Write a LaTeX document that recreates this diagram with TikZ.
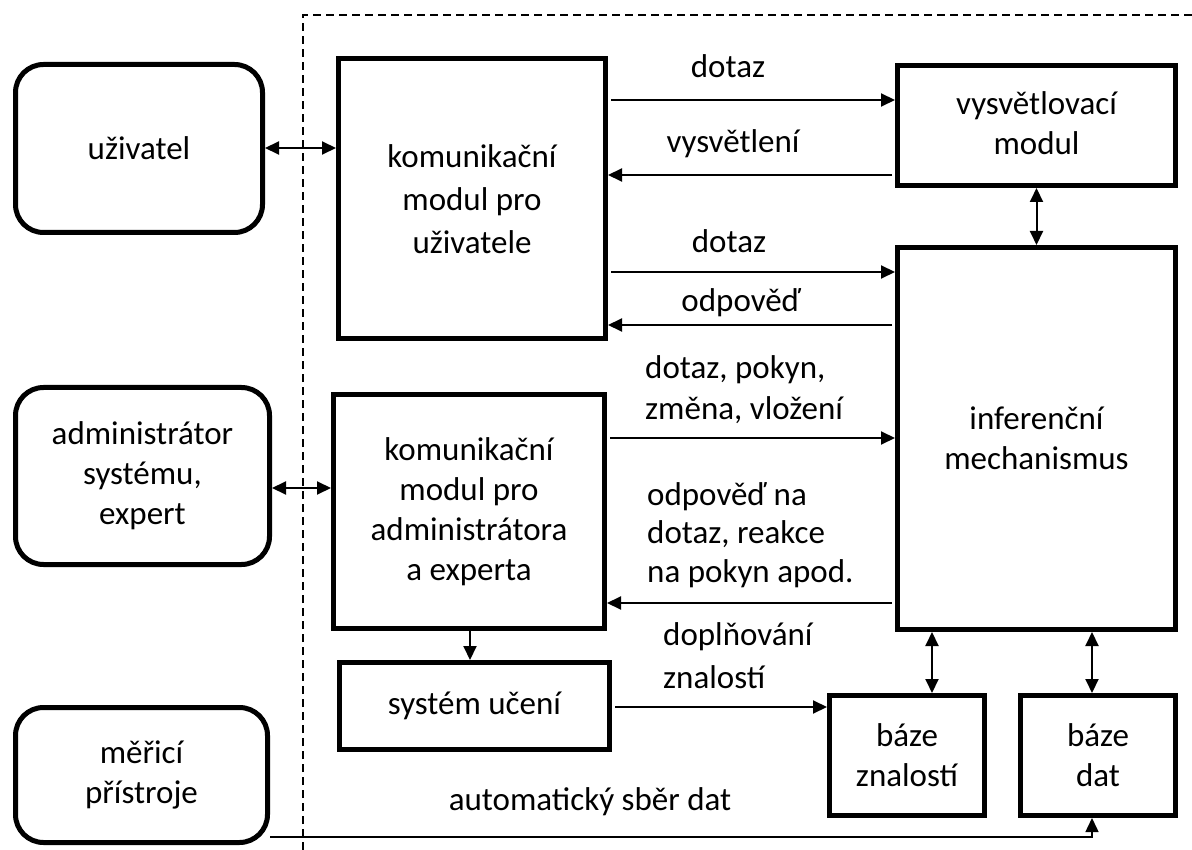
\documentclass[tikz,border=0pt]{standalone}
\usepackage{fontspec}
\setmainfont{Carlito}
\usetikzlibrary{arrows.meta}

\tikzset{
  txt/.style={font=\fontsize{33}{40}\selectfont},
  box/.style={txt, draw, line width=5pt, align=center, inner sep=0pt},
  rbox/.style={box, rounded corners=28pt},
  lbl/.style={txt, align=left, inner sep=0pt, anchor=base west},
  clbl/.style={txt, inner sep=0pt, anchor=base},
  tip/.tip={Triangle[length=14pt,width=13pt]},
  conn/.style={line width=2pt, -tip, shorten <=3pt},
  biconn/.style={line width=2pt, tip-tip},
  border/.style={line width=2pt, dash pattern=on 8pt off 5pt},
}

\begin{document}
\begin{tikzpicture}[x=1pt, y=-1pt]
\useasboundingbox (0,0) rectangle (1192,850);

% system boundary
\draw[border] (303,850) -- (303,15) -- (1192,15);

% outside actors
\node[rbox, minimum width=247pt, minimum height=168pt] (user) at (139,148.5) {uživatel};
\node[rbox, minimum width=254pt, minimum height=177pt] (admin) at (142.5,476) {administrátor\\systému,\\expert};
\node[rbox, minimum width=252pt, minimum height=135pt] (meas) at (141.5,775) {měřicí\\přístroje};

% modules of the system
\node[box, minimum width=267pt, minimum height=280pt, font=\fontsize{33}{43}\selectfont] (ku) at (472,199) {komunikační\\modul pro\\uživatele};
\node[box, minimum width=271pt, minimum height=234pt] (ka) at (469,511.5) {komunikační\\modul pro\\administrátora\\a experta};
\node[box, minimum width=270pt, minimum height=87pt] (learn) at (474.5,706) {systém učení};
\node[box, minimum width=278pt, minimum height=120pt, text depth=4pt] (expl) at (1036.5,125.5) {vysvětlovací\\modul};
\node[box, minimum width=278pt, minimum height=382pt] (inf) at (1036.5,438.5) {inferenční\\mechanismus};
\node[box, minimum width=155pt, minimum height=120pt] (kb) at (907,755.5) {báze\\znalostí};
\node[box, minimum width=155pt, minimum height=120pt] (db) at (1098,755.5) {báze\\dat};

% user side
\draw[biconn] (user.east |- 0,148) -- (ku.west |- 0,148);
\draw[conn] (ku.east |- 0,100) -- (expl.west |- 0,100);
\draw[conn] (expl.west |- 0,175) -- (ku.east |- 0,175);
\draw[biconn] (expl.south) -- (inf.north);
\draw[conn] (ku.east |- 0,272) -- (inf.west |- 0,272);
\draw[conn] (inf.west |- 0,325) -- (ku.east |- 0,325);

% administrator side
\draw[biconn] (admin.east |- 0,488) -- (ka.west |- 0,488);
\draw[conn] (ka.east |- 0,438) -- (inf.west |- 0,438);
\draw[conn] (inf.west |- 0,603) -- (ka.east |- 0,603);
\draw[conn, shorten <=0pt] (ka.south -| 470,0) -- (learn.north -| 470,0);
\draw[conn] (learn.east |- 0,707) -- (kb.west |- 0,707);

% knowledge and data bases
\draw[biconn] (inf.south -| 932,0) -- (kb.north -| 932,0);
\draw[biconn] (inf.south -| 1092,0) -- (db.north -| 1092,0);
\draw[line width=1.5pt, -tip] (meas.east |- 0,837) -- (1092,837) -- (db.south -| 1092,0);

% connector labels (multi-line ones are placed by their last baseline)
\node[clbl] (l1) at (728,78) {dotaz};
\node[clbl] (l2) at (733,153) {vysvětlení};
\node[clbl] (l3) at (729,253) {dotaz};
\node[clbl] (l4) at (741,312) {odpověď};
\node[lbl, font=\fontsize{33}{42}\selectfont] (l5) at (645,420) {dotaz, pokyn,\\změna, vložení};
\node[lbl, font=\fontsize{33}{38.5}\selectfont] (l6) at (647,582) {odpověď na\\dotaz, reakce\\na pokyn apod.};
\node[lbl, font=\fontsize{33}{43}\selectfont] (l7) at (663,688) {doplňování\\znalostí};
\node[clbl] (l8) at (590,810) {automatický sběr dat};
\end{tikzpicture}
\end{document}
